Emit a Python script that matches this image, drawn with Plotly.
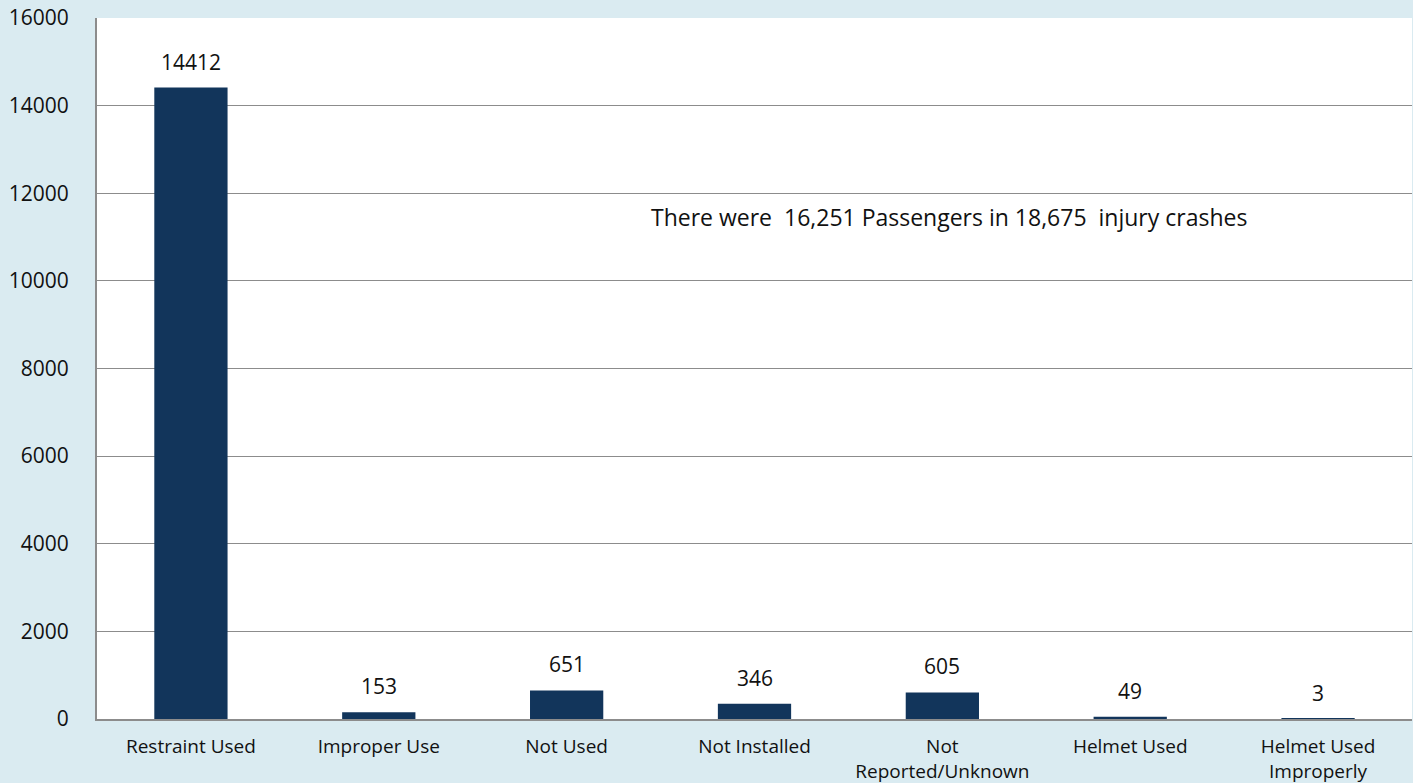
import plotly.graph_objects as go

categories = ["Restraint Used", "Improper Use", "Not Used", "Not Installed",
              "Not<br>Reported/Unknown", "Helmet Used", "Helmet Used<br>Improperly"]
values = [14412, 153, 651, 346, 605, 49, 3]
y_ticks = [0, 2000, 4000, 6000, 8000, 10000, 12000, 14000, 16000]
note = "There were  16,251 Passengers in 18,675  injury crashes"

BG = "#DAEBF1"
BAR = "#12355B"

fig = go.Figure()
fig.add_trace(go.Bar(x=categories, y=values, marker=dict(color=BAR, line=dict(width=0)),
                     width=0.39, showlegend=False, hoverinfo="skip"))

for c, v in zip(categories, values):
    fig.add_annotation(x=c, y=v, text=str(v), showarrow=False, yanchor="bottom",
                       yshift=10, font=dict(family="Open Sans", size=21, color="#111111"))

fig.add_annotation(xref="paper", yref="y", x=0.648, y=11450, text=note, showarrow=False,
                   font=dict(family="Open Sans", size=23, color="#111111"))

fig.update_layout(
    width=1413, height=783,
    paper_bgcolor=BG, plot_bgcolor="white",
    margin=dict(l=97, r=1, t=18, b=64),
    xaxis=dict(showgrid=False, showline=True, linecolor="#8c8c8c", linewidth=2,
               tickfont=dict(family="Open Sans", size=19, color="#111111"),
               ticks="", ticklabelstandoff=9, automargin=False),
    yaxis=dict(range=[0, 16000], tickvals=y_ticks, tickformat="d", showgrid=True,
               gridcolor="#8c8c8c", gridwidth=1.3, showline=True, linecolor="#8c8c8c",
               linewidth=2, zeroline=False, automargin=False,
               tickfont=dict(family="Open Sans", size=21, color="#111111"),
               ticks="", ticklabelstandoff=22),
)

fig.write_html("out.html", config={"displayModeBar": False},
               post_script="document.body.style.margin='0';")
